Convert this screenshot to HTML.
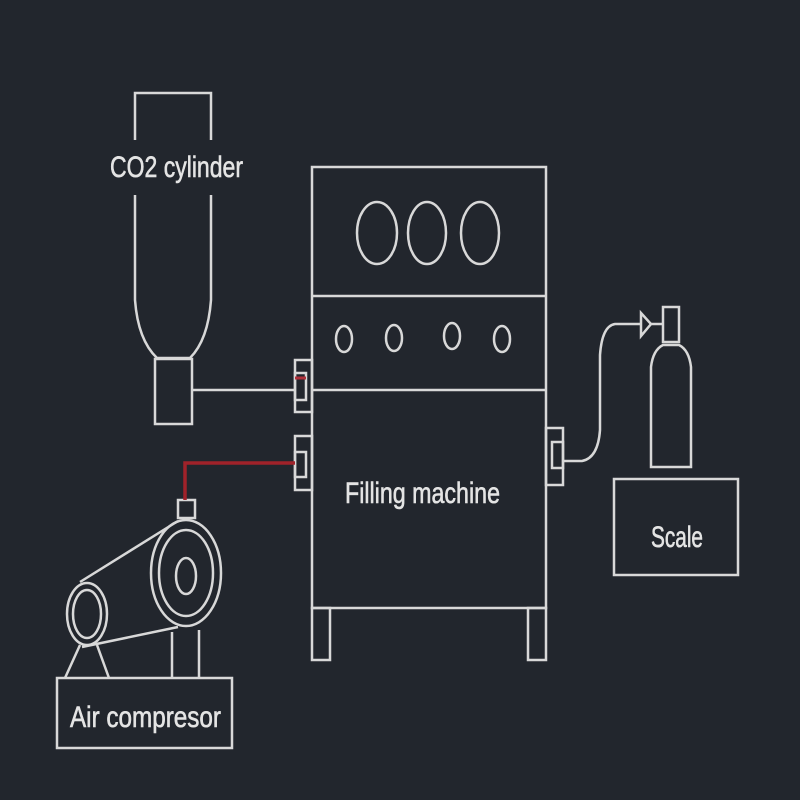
<!DOCTYPE html>
<html><head><style>body{margin:0;background:#22262d}svg{display:block}</style></head>
<body>
<svg width="800" height="800" viewBox="0 0 800 800" xmlns="http://www.w3.org/2000/svg">
<rect width="800" height="800" fill="#22262d"/>
<g fill="none" stroke="#d8d8d8" stroke-width="2.5">
<!-- CO2 cylinder -->
<path d="M135,140 V93 H211 V140"/>
<path d="M135,195 V300 Q138,340 157,358 H190 Q208,340 211,300 V195"/>
<rect x="155" y="359" width="37" height="65"/>
<line x1="192" y1="390" x2="295" y2="390"/>
<!-- machine -->
<rect x="312" y="167" width="234" height="441"/>
<line x1="312" y1="296" x2="546" y2="296"/>
<line x1="312" y1="390" x2="546" y2="390"/>
<rect x="312" y="608" width="18" height="52"/>
<rect x="528" y="608" width="18" height="52"/>
<ellipse cx="377" cy="233" rx="20" ry="31"/>
<ellipse cx="427" cy="233" rx="19" ry="31"/>
<ellipse cx="480" cy="233" rx="19" ry="31"/>
<ellipse cx="344" cy="339" rx="8" ry="13"/>
<ellipse cx="394" cy="338" rx="8" ry="13"/>
<ellipse cx="452" cy="336" rx="8" ry="13"/>
<ellipse cx="502" cy="339" rx="8" ry="13"/>
<!-- left connectors -->
<rect x="295" y="360" width="17" height="52"/>
<rect x="295" y="373" width="11" height="27"/>
<rect x="295" y="436" width="17" height="54"/>
<rect x="295" y="452" width="11" height="25"/>
<!-- right connector -->
<rect x="546" y="428" width="17" height="57"/>
<rect x="552" y="442" width="11" height="26"/>
<path d="M563,461 H582 Q598,458 600,430 V355 Q602,326 615,324 H641"/>
<path d="M641,313 L651,324 L641,336 Z"/>
<line x1="651" y1="324" x2="663" y2="324"/>
<rect x="663" y="307" width="16" height="35"/>
<path d="M651,467 V367 Q653,350 663,345 H679 Q689,350 691,367 V467 Z"/>
<rect x="614" y="479" width="124" height="96"/>
<!-- compressor -->
<rect x="178" y="500" width="17" height="18"/>
<ellipse cx="186" cy="573" rx="35" ry="53"/>
<ellipse cx="186" cy="573" rx="27" ry="43"/>
<ellipse cx="186" cy="576" rx="10" ry="18"/>
<ellipse cx="87" cy="614" rx="20" ry="31"/>
<ellipse cx="87" cy="614" rx="14" ry="24"/>
<line x1="80" y1="582" x2="178" y2="521"/>
<line x1="82" y1="647" x2="178" y2="627"/>
<line x1="172" y1="632" x2="172" y2="678"/>
<line x1="199" y1="630" x2="199" y2="678"/>
<line x1="80" y1="645" x2="65" y2="678"/>
<line x1="97" y1="645" x2="109" y2="678"/>
<rect x="57" y="678" width="175" height="70"/>
</g>
<path d="M295,463 H185 V500" fill="none" stroke="#a0222a" stroke-width="3.5"/>
<line x1="295" y1="378" x2="306" y2="378" stroke="#b0303a" stroke-width="3"/>
<g fill="#e4e4e4" stroke="#e4e4e4" stroke-width="0.6" font-family="Liberation Sans, sans-serif" font-size="30" lengthAdjust="spacingAndGlyphs">
<text x="110" y="177" textLength="133" lengthAdjust="spacingAndGlyphs">CO2 cylinder</text>
<text x="345" y="503" textLength="155" lengthAdjust="spacingAndGlyphs">Filling machine</text>
<text x="651" y="547" textLength="52" lengthAdjust="spacingAndGlyphs">Scale</text>
<text x="70" y="727" textLength="151" lengthAdjust="spacingAndGlyphs">Air compresor</text>
</g>
</svg>
</body></html>
